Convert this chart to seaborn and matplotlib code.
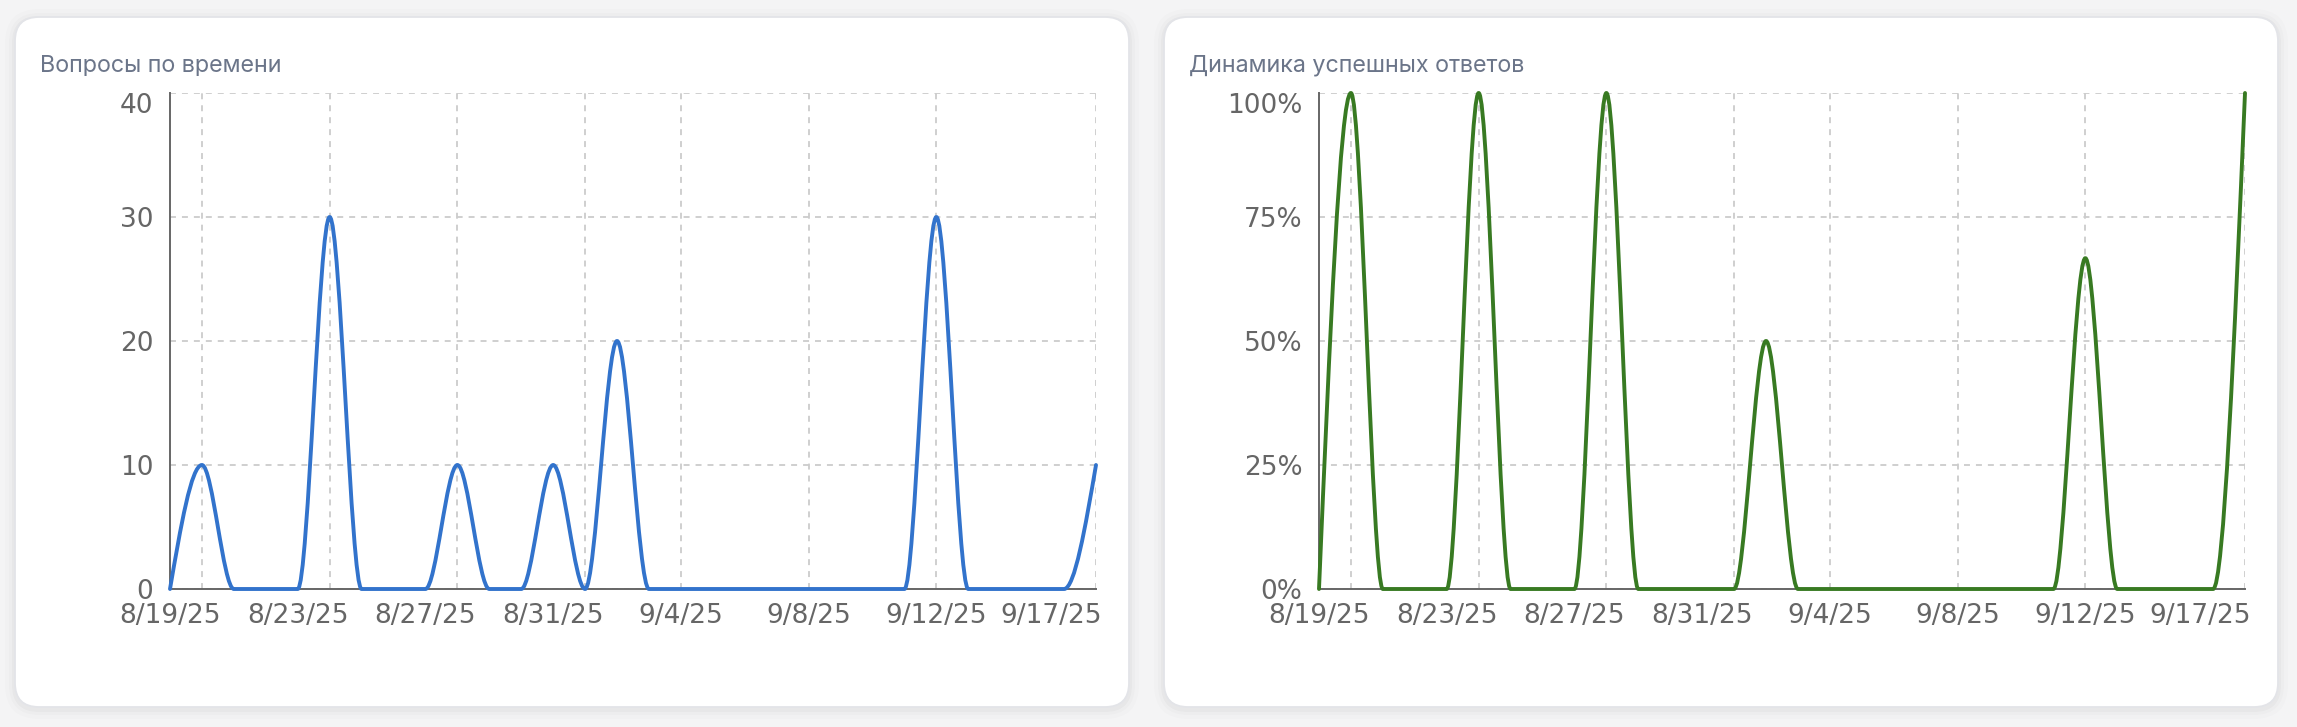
import matplotlib
matplotlib.use("Agg")
import matplotlib.pyplot as plt
import matplotlib.dates as mdates
import matplotlib.transforms as mtransforms
from matplotlib.path import Path
from matplotlib.patches import PathPatch, FancyBboxPatch
import numpy as np
import pandas as pd
import seaborn as sns

# daily data, 8/19/25 .. 9/17/25
days = pd.date_range("2025-08-19", "2025-09-17", freq="D")
questions = [0, 10, 0, 0, 0, 30, 0, 0, 0, 10, 0, 0, 10, 0, 20,
             0, 0, 0, 0, 0, 0, 0, 0, 0, 30, 0, 0, 0, 0, 10]
success_pct = [0, 100, 0, 0, 0, 100, 0, 0, 0, 100, 0, 0, 0, 0, 50,
               0, 0, 0, 0, 0, 0, 0, 0, 0, 66.7, 0, 0, 0, 0, 100]

tick_days = ["2025-08-19", "2025-08-23", "2025-08-27", "2025-08-31",
             "2025-09-04", "2025-09-08", "2025-09-12", "2025-09-17"]
grid_days = ["2025-08-20", "2025-08-24", "2025-08-28", "2025-09-01",
             "2025-09-04", "2025-09-08", "2025-09-12", "2025-09-17"]
q_ticks = [0, 10, 20, 30, 40]
pct_ticks = [0, 25, 50, 75, 100]
titles = ["Вопросы по времени", "Динамика успешных ответов"]

W, H, DPI = 2297, 727, 100
GRID = "#cccccc"
AXC = "#666666"

sns.set_theme(style="white")
plt.rcParams["font.family"] = ["DejaVu Sans"]
plt.rcParams["lines.scale_dashes"] = False


def monotone_path(x, y):
    # same tangents as d3.curveMonotoneX (recharts type="monotone")
    x = np.asarray(x, float)
    y = np.asarray(y, float)
    n = len(x)
    h = np.diff(x)
    s = np.diff(y) / h
    sign = lambda v: -1.0 if v < 0 else 1.0
    t = np.zeros(n)
    for i in range(1, n - 1):
        p = (s[i - 1] * h[i] + s[i] * h[i - 1]) / (h[i - 1] + h[i])
        t[i] = (sign(s[i - 1]) + sign(s[i])) * min(abs(s[i - 1]), abs(s[i]), 0.5 * abs(p))
    t[0] = (3 * s[0] - t[1]) / 2
    t[-1] = (3 * s[-1] - t[-2]) / 2
    verts = [(x[0], y[0])]
    codes = [Path.MOVETO]
    for i in range(n - 1):
        d = h[i] / 3
        verts += [(x[i] + d, y[i] + d * t[i]),
                  (x[i + 1] - d, y[i + 1] - d * t[i + 1]),
                  (x[i + 1], y[i + 1])]
        codes += [Path.CURVE4] * 3
    return Path(verts, codes)


fig = plt.figure(figsize=(W / DPI, H / DPI), dpi=DPI)
fig.patch.set_facecolor("#f4f4f5")

# background with the two cards, in pixel units
bg = fig.add_axes([0, 0, 1, 1], zorder=-10)
bg.set_xlim(0, W)
bg.set_ylim(H, 0)
bg.axis("off")
for cx in [15, 1164]:
    for k, a in [(10, 0.010), (6, 0.015), (3, 0.022)]:
        bg.add_patch(FancyBboxPatch((cx - k, 17 - k + 2), 1114 + 2 * k, 690 + 2 * k,
                                    boxstyle="round,pad=0,rounding_size=%d" % (24 + k),
                                    fc="black", ec="none", alpha=a))
    bg.add_patch(FancyBboxPatch((cx, 17), 1114, 690,
                                boxstyle="round,pad=0,rounding_size=24",
                                fc="white", ec="#e3e4e8", lw=1.3))

x = mdates.date2num(days)
tick_x = mdates.date2num(pd.to_datetime(tick_days))
grid_x = mdates.date2num(pd.to_datetime(grid_days))
tick_labels = [f"{d.month}/{d.day}/{d:%y}" for d in pd.to_datetime(tick_days)]

panels = [
    (170, questions, q_ticks, [str(v) for v in q_ticks], "#3273cc", titles[0], 40),
    (1319, success_pct, pct_ticks, [f"{v}%" for v in pct_ticks], "#387a22", titles[1], 1189),
]

for left, vals, yt, ytl, color, title, tx in panels:
    ax = fig.add_axes([left / W, 1 - 589 / H, 926 / W, 496 / H])
    ax.patch.set_alpha(0)
    ax.set_xlim(x[0], x[-1])
    ax.set_ylim(yt[0], yt[-1])

    ax.hlines(yt, x[0], x[-1], colors=GRID, lw=1.3, linestyles=(0, (4.3, 4.3)), zorder=1)
    ax.vlines(grid_x, yt[0], yt[-1], colors=GRID, lw=1.3, linestyles=(0, (4.3, 4.3)), zorder=1)

    ax.add_patch(PathPatch(monotone_path(x, vals), fc="none", ec=color, lw=2.8,
                           capstyle="round", joinstyle="round", zorder=4, clip_on=False))

    sns.despine(ax=ax)
    for sp in ["left", "bottom"]:
        ax.spines[sp].set_color(AXC)
        ax.spines[sp].set_linewidth(1.4)
        ax.spines[sp].set_zorder(3)

    ax.set_xticks(tick_x)
    ax.set_xticklabels(tick_labels)
    ax.set_yticks(yt)
    ax.set_yticklabels(ytl)
    ax.tick_params(axis="both", length=8, width=1.4, color=AXC, labelcolor=AXC,
                   labelsize=19, direction="out")
    ax.tick_params(axis="x", pad=2)
    ax.tick_params(axis="y", pad=4)
    ax.get_yticklabels()[-1].set_va("top")
    last = ax.get_xticklabels()[-1]
    last.set_ha("right")
    last.set_transform(last.get_transform() +
                       mtransforms.ScaledTranslation(6 / DPI, 0, fig.dpi_scale_trans))

    fig.text(tx / W, 1 - 72 / H, title, fontsize=16.8, color="#6b7589",
             family=["Inter", "DejaVu Sans"], va="baseline", ha="left")

fig.savefig("out.png", dpi=DPI, facecolor=fig.get_facecolor())
